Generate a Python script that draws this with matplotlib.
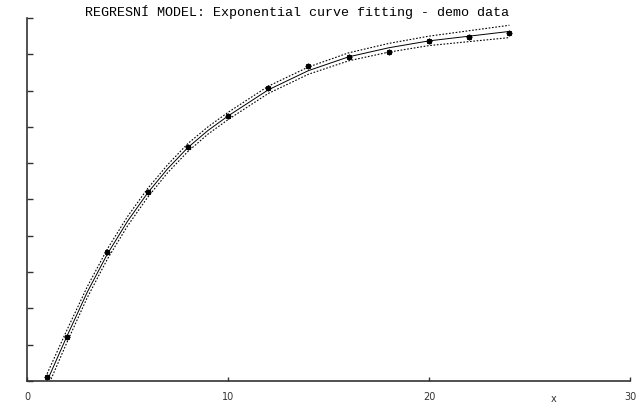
import matplotlib
matplotlib.use("Agg")
from matplotlib import pyplot as plt

# measured points (y in tick units, axis 0..10)
x_pts = [1, 2, 4, 6, 8, 10, 12, 14, 16, 18, 20, 22, 24]
y_pts = [0.11, 1.21, 3.55, 5.21, 6.45, 7.30, 8.07, 8.68, 8.93, 9.06, 9.37, 9.48, 9.59]

# fitted curve and confidence band
x_fit = [1, 2, 3, 4, 5, 6, 7, 8, 9, 10, 12, 14, 16, 18, 20, 22, 24]
y_fit = [0.0, 1.25, 2.45, 3.50, 4.40, 5.18, 5.85, 6.43, 6.90, 7.30, 8.02, 8.55, 8.93, 9.18, 9.37, 9.50, 9.63]
y_upper = [0.20, 1.42, 2.60, 3.64, 4.53, 5.30, 5.96, 6.54, 7.00, 7.40, 8.12, 8.65, 9.04, 9.30, 9.50, 9.65, 9.80]
y_lower = [-0.20, 1.08, 2.30, 3.36, 4.27, 5.06, 5.74, 6.32, 6.80, 7.20, 7.92, 8.45, 8.82, 9.06, 9.24, 9.35, 9.46]

x_ticks = [0, 10, 20, 30]
title = "REGRESNÍ MODEL: Exponential curve fitting - demo data"

fig = plt.figure(figsize=(6.38, 4.05), dpi=100)
ax = fig.add_axes([27 / 638, 24 / 405, 603 / 638, 363 / 405])

ax.plot(x_fit, y_fit, color="black", lw=0.7)
ax.plot(x_fit, y_upper, color="black", lw=0.8, ls=(0, (1.5, 1.5)))
ax.plot(x_fit, y_lower, color="black", lw=0.8, ls=(0, (1.5, 1.5)))
ax.plot(x_pts, y_pts, ls="none", marker=(8, 2, 0), ms=4, mew=1.0, color="black")
# little end tick of the fitted line
ax.plot([x_fit[-1], x_fit[-1]], [y_fit[-1], y_pts[-1]], color="black", lw=0.7)

ax.set_xlim(0, 30)
ax.set_ylim(0, 10)
ax.set_xticks(x_ticks)
ax.set_yticks(range(11))
ax.set_yticklabels([])
ax.tick_params(axis="x", direction="in", length=3, width=1, labelsize=7, pad=8, colors="#333")
ax.tick_params(axis="y", direction="in", length=4, width=1, colors="#333")
for s in ["top", "right"]:
    ax.spines[s].set_visible(False)
for s in ["left", "bottom"]:
    ax.spines[s].set_color("#333")
    ax.spines[s].set_linewidth(1.2)

fig.text(297 / 638, 1 - 12 / 405, title, ha="center", va="center",
         family="Liberation Mono", fontsize=9.6)
fig.text(554 / 638, 1 - 399 / 405, "x", ha="center", va="center", fontsize=7, color="#333")

fig.savefig("out.png", dpi=100)
